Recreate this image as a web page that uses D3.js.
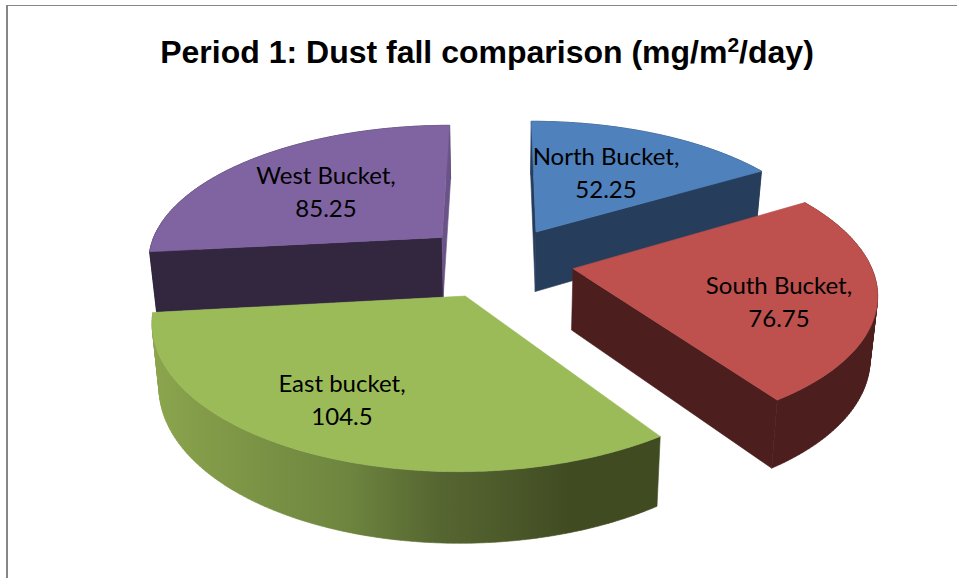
<!DOCTYPE html>
<html><head><meta charset="utf-8">
<script src="https://cdn.jsdelivr.net/npm/d3@7"></script>
<style>html,body{margin:0;padding:0;background:#fff}svg{display:block}</style>
</head><body><svg id="c" width="957" height="578"></svg>
<script>
const categories = ["North Bucket", "South Bucket", "East bucket", "West Bucket"];
const values = [52.25, 76.75, 104.5, 85.25];
const valueLabels = ["52.25", "76.75", "104.5", "85.25"];
const topColors = ["#4f81bd", "#be504d", "#9bbb59", "#8064a2"];
const wallColors = ["#263d5c", "#4d1e1e", "url(#eastSide)", "#33263f"];
const startFaceColors = ["#263d5c", "none", "none", "#33263f"];
const endFaceColors = ["#263d5c", "#4d1e1e", "none", "#6a5487"];
const explodes = [0.255, 0.25, 0.27, 0.27];
const drawOrder = [3, 0, 2, 1];
const labelCenters = [[606, 173], [779, 302], [342, 400], [326, 192]];

const W = 957, H = 578, cx = 500, cy = 261.3, p = 0.155;
const depth = 61, shrink = 0.98;
const sx = d3.scaleLinear().domain([-1, 1]).range([-296.4, 296.4]);
const sy = d3.scaleLinear().domain([-1, 1]).range([-136.3, 136.3]);

const svg = d3.select("#c");
const defs = svg.append("defs");
const grad = defs.append("linearGradient").attr("id", "eastSide")
  .attr("gradientUnits", "userSpaceOnUse").attr("x1", 155).attr("x2", 660).attr("y1", 0).attr("y2", 0);
[[0, "#8ba44d"], [0.2, "#7b9345"], [0.38, "#6e853f"], [0.56, "#566631"], [0.68, "#4d5b2b"], [0.82, "#404b22"], [1, "#404b22"]]
  .forEach(s => grad.append("stop").attr("offset", s[0]).attr("stop-color", s[1]));

svg.append("line").attr("x1", 7).attr("x2", 7).attr("y1", 5).attr("y2", H).attr("stroke", "#868686").attr("stroke-width", 2);
svg.append("line").attr("x1", 6).attr("x2", W).attr("y1", 5.5).attr("y2", 5.5).attr("stroke", "#868686").attr("stroke-width", 1.2);

function project(X, Y, low) {
  const w = 1 - p * Y;
  let x = cx + sx(X) / w, y = cy + sy(Y) / w;
  if (low) { x = cx + (x - cx) * shrink; y += depth / Math.pow(w, 0.75); }
  return [x, y];
}
const line = d3.line();
const arcs = d3.pie().sort(null).value(d => d)(values);

drawOrder.forEach(i => {
  const a = arcs[i], mid = (a.startAngle + a.endAngle) / 2;
  const ax = explodes[i] * Math.sin(mid), ay = -explodes[i] * Math.cos(mid);
  const rim = t => [ax + Math.sin(t), ay - Math.cos(t)];
  const n = Math.ceil((a.endAngle - a.startAngle) * 60);
  const ts = d3.range(n + 1).map(k => a.startAngle + (a.endAngle - a.startAngle) * k / n);
  const upper = ts.map(t => project(...rim(t), false));
  const lower = ts.map(t => project(...rim(t), true));
  const apexU = project(ax, ay, false), apexL = project(ax, ay, true);
  const g = svg.append("g");
  const face = (d, c) => { if (c !== "none") g.append("path").attr("d", d).attr("fill", c).attr("stroke", c).attr("stroke-width", 0.6); };
  // wall: consistently wound quads in one path, so they union with no seams
  const wall = d3.range(n).map(k => {
    const q = [upper[k], upper[k + 1], lower[k + 1], lower[k]];
    return line(d3.polygonArea(q) < 0 ? q.reverse() : q) + "Z";
  }).join("");
  face(wall, wallColors[i]);
  face(line([apexU, upper[0], lower[0], apexL]) + "Z", startFaceColors[i]);
  face(line([apexU, upper[n], lower[n], apexL]) + "Z", endFaceColors[i]);
  face(line([apexU, ...upper]) + "Z", topColors[i]);
});

const title = svg.append("text").attr("x", 487).attr("y", 63).attr("text-anchor", "middle")
  .attr("font-family", "'Liberation Sans', Arial, sans-serif").attr("font-weight", "bold").attr("font-size", 32).attr("fill", "#000");
title.append("tspan").text("Period 1: Dust fall comparison (mg/m");
title.append("tspan").text("2").attr("font-size", 21).attr("dy", -11);
title.append("tspan").text("/day)").attr("dy", 11);

categories.forEach((c, i) => {
  const t = svg.append("text").attr("text-anchor", "middle").attr("font-family", "Lato, 'Open Sans', sans-serif")
    .attr("font-size", 24).attr("fill", "#000");
  const [lx, ly] = labelCenters[i];
  t.append("tspan").attr("x", lx).attr("y", ly - 8).text(c + ",");
  t.append("tspan").attr("x", lx).attr("y", ly + 25).text(valueLabels[i]);
});
</script></body></html>
